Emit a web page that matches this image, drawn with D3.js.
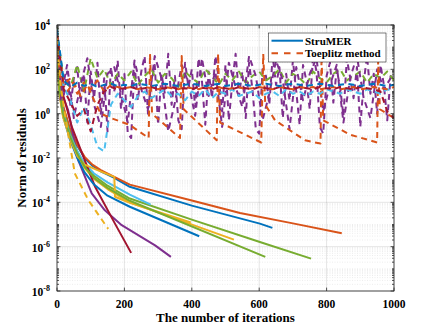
<!DOCTYPE html>
<html>
<head>
<meta charset="utf-8">
<script src="https://d3js.org/d3.v7.min.js"></script>
<style>
    body { margin: 0; background: #fff; }
    svg { display: block; }
    text { font-family: "Liberation Serif", "Times New Roman", serif; font-weight: bold; fill: #000; }
</style>
</head>
<body>
<svg id="chart" width="436" height="327"></svg>
<script>
    // ---- data (values given as log10 of the residual) ----
    var xTicks = [0, 200, 400, 600, 800, 1000];
    var yTickExps = [-8, -6, -4, -2, 0, 2, 4];
    var legendLabels = ["StruMER", "Toeplitz method"];

    // StruMER runs: [iteration, log10 residual]
    var struBlue1 = [[0,3.5],[3,2.3],[8,1.2],[18,0.3],[38,-0.7],[60,-1.45],[82,-2.0],[105,-2.35],[130,-2.6],[170,-2.9],[216,-3.3],[400,-4.15],[602,-4.96],[639,-5.15]];
    var struOrange = [[0,3.6],[3,2.4],[8,1.3],[18,0.35],[38,-0.65],[60,-1.4],[82,-1.95],[105,-2.3],[130,-2.55],[170,-2.85],[216,-3.2],[400,-3.92],[543,-4.48],[700,-4.95],[845,-5.39]];
    var struYellow1 = [[0,3.3],[3,1.9],[8,0.9],[18,0.0],[38,-1.0],[60,-1.85],[82,-2.45],[110,-2.95],[150,-3.4],[216,-4.0],[525,-5.68]];
    var struPurple = [[0,3.6],[4,2.0],[12,1.0],[33,0.16],[63,-2.1],[103,-3.6],[142,-4.36],[192,-5.03],[291,-5.94],[338,-6.46]];
    var struGreen1 = [[0,3.9],[3,2.3],[8,1.1],[18,0.15],[38,-0.85],[60,-1.7],[82,-2.3],[110,-2.8],[150,-3.25],[216,-3.83],[400,-4.78],[602,-5.79],[754,-6.54]];
    var struCyan = [[0,3.4],[3,2.0],[8,1.0],[18,0.05],[38,-0.95],[60,-1.7],[82,-2.25],[110,-2.7],[150,-3.1],[216,-3.65],[278,-4.1]];
    var struDarkRed = [[0,3.5],[5,2.0],[15,1.0],[30,0.2],[44,-0.6],[113,-3.3],[172,-4.96],[220,-6.28]];
    var struBlue2 = [[0,3.5],[3,2.0],[8,0.9],[18,-0.1],[38,-1.15],[60,-2.0],[82,-2.65],[110,-3.2],[150,-3.7],[216,-4.2],[422,-5.53]];
    var struYellow2 = [[0,3.2],[3,1.8],[8,0.8],[18,-0.15],[38,-1.1],[60,-1.9],[82,-2.3],[120,-2.55],[170,-2.85],[172,-3.75],[216,-4.02],[397,-4.91]];
    var struGreen2 = [[0,3.7],[3,2.1],[8,1.0],[18,0.0],[38,-1.0],[60,-1.8],[82,-2.4],[110,-2.9],[150,-3.35],[216,-3.93],[618,-6.46]];

    // Toeplitz runs sampled every 20 iterations
    var iters20 = d3.range(0, 1001, 20);
    var toeBlue = [3.8, 1.5, 1.2, 1.4, 1.25, 1.35, 1.2, 1.3, 1.35, 1.25,
                   1.3, 1.25, 1.35, 1.3, 1.25, 1.3, 1.35, 1.3, 1.25, 1.3,
                   1.35, 1.3, 1.25, 1.3, 1.35, 1.25, 1.3, 1.35, 1.3, 1.25,
                   1.3, 1.35, 1.3, 1.25, 1.3, 1.35, 1.3, 1.25, 1.3, 1.35,
                   1.3, 1.25, 1.3, 1.35, 1.3, 1.25, 1.3, 1.35, 1.3, 1.25, 1.3];
    var toeOrange = [3.5, 1.3, 1.6, 0.9, 1.4, 1.1, 1.5, 1.0, 1.3, 1.2,
                     1.15, 1.2, 1.1, 1.2, 1.15, 1.1, 1.2, 1.15, 1.1, 1.2,
                     1.15, 1.1, 1.2, 1.15, 1.2, 1.1, 1.15, 1.2, 1.1, 1.15,
                     1.2, 1.15, 1.1, 1.2, 1.15, 1.1, 1.2, 1.15, 1.2, 1.1,
                     1.15, 1.2, 1.1, 1.15, 1.2, 1.1, 1.15, 1.2, 1.15, 1.1, 1.2];
    var toeGreen = [3.7, 1.5, 1.2, 2.2, 1.0, 2.5, 1.6, 2.0, 1.3, 1.8,
                    1.5, 1.9, 1.3, 1.7, 2.0, 1.4, 1.8, 1.6, 1.2, 1.9,
                    1.6, 1.4, 2.0, 1.7, 1.3, 1.8, 1.5, 1.9, 1.4, 1.7,
                    1.9, 1.5, 1.7, 2.0, 1.4, 1.8, 1.6, 1.3, 1.9, 1.6,
                    1.4, 1.8, 2.0, 1.5, 1.7, 1.9, 1.4, 1.8, 1.6, 1.9, 1.5];
    var toeCyan = [3.4, 1.2, 0.6, -0.4, 0.3, -0.5, -1.5, -1.7, 0.4, 0.9,
                   0.6, 0.3, 0.8, 1.0, 0.7, 0.9, 1.1, 0.8, 0.9, 0.6,
                   1.0, 0.8, 1.1, 0.7, 1.0, 0.9, 1.1, 0.8, 0.9, 1.0,
                   0.7, 0.9, 1.0, 0.8, 1.1, 0.9, 1.0, 0.8, 1.0, 0.9,
                   1.1, 1.0, 0.9, 1.1, 1.0, 0.9, 1.1, 1.0, 0.9, 1.1, 1.0];
    var toeDarkRed = [3.6, 1.1, 0.5, -0.1, 0.2, -0.8, 0.4, 1.0, 1.2, 1.1,
                      1.15, 1.2, 1.1, 1.15, 1.2, 1.1, 1.15, 1.2, 1.1, 1.15,
                      1.1, 1.2, 1.15, 1.1, 1.2, 1.15, 1.1, 1.2, 1.15, 1.1,
                      1.2, 1.15, 1.1, 1.2, 1.15, 1.1, 1.2, 1.15, 1.1, 1.2,
                      1.15, 1.1, 1.2, 1.15, 1.1, 1.2, 1.15, 1.1, 1.0, 0.1, -0.2];

    // Toeplitz purple runs: one every 10 iterations, one at the odd tens
    var iters10 = d3.range(0, 1001, 10);
    var toePurple = [3.6, 1.5, 0.8, 1.9, 0.3, 1.6, 2.1, 0.5, 1.8, -0.4,
                     1.9, 0.7, 2.3, 0.0, 1.6, -0.8, 2.1, 1.0, 2.4, 0.2,
                     1.8, -0.9, -1.1, 2.2, 0.6, 1.9, 2.6, 0.0, 1.4, 2.2,
                     -0.5, 1.8, 0.9, 2.7, 0.4, 1.7, -0.3, -0.7, 2.3, 1.2,
                     2.0, 0.3, 2.5, 1.5, -0.5, 1.9, 0.7, 2.6, 1.6, 0.1,
                     2.2, -0.3, 1.4, 2.7, 0.8, 1.9, -0.2, 2.3, 1.1, -0.7,
                     -0.9, 2.0, 1.7, 0.4, 2.6, 1.3, 2.1, -0.2, 1.8, 0.6,
                     2.4, 1.0, -0.5, 2.2, 1.5, 0.2, 2.7, 1.9, -0.6, -0.9,
                     1.7, 2.3, 0.5, 2.0, 1.2, -0.1, 2.5, 1.6, 0.7, 2.1,
                     -0.6, 1.4, 2.6, 0.9, 1.8, 0.0, 2.2, 1.3, -0.3, 1.7, 1.5];
    var itersOdd = d3.range(10, 1000, 20);
    var toePurple2 = [0.6, 2.2, -0.2, 1.3, 2.5, 0.4, -0.6, 1.8, 2.1, 0.9,
                      -0.4, 2.4, 1.1, 0.2, 2.6, 1.6, -0.8, 0.5, 2.2, 1.4,
                      -0.1, 2.5, 0.8, 1.9, -0.6, 2.3, 1.2, 0.3, 2.6, 1.7,
                      -0.3, 0.9, 2.4, 1.5, -0.7, 2.1, 0.6, 1.8, 2.5, 0.1,
                      1.3, 2.2, -0.4, 1.6, 2.6, 0.7, -0.2, 2.0, 1.1, 1.6];

    // Toeplitz orange run with restarts (sawtooth)
    var toeOrange2X = [0, 10, 30, 50, 70, 90, 110, 130, 160, 215, 272, 276, 282, 365, 370, 376, 474, 478, 484, 606, 612, 618, 647, 736, 782, 785, 790, 870, 950, 953, 958, 1000];
    var toeOrange2E = [3.3, 1.5, 1.0, 1.4, 0.8, 1.3, 0.6, 0.0, -0.2, -0.5, -1.1, 2.7, 0.0, -1.1, 2.6, 0.2, -1.2, 2.7, -0.4, -1.3, 2.7, 0.4, -0.3, -1.2, -1.35, 2.6, -0.3, -0.95, -1.3, 2.4, 0.2, -0.2];

    // Toeplitz yellow run that converges
    var toeYellow = [[0,3.4],[8,1.6],[20,0.3],[33,-0.9],[53,-2.7],[93,-3.9],[152,-5.2]];

    // ---- layout ----
    var width = 436, height = 327;
    var plot = { left: 57, right: 394, top: 25, bottom: 291 };
    var c = { blue: "#0072BD", orange: "#D95319", yellow: "#EDB120", purple: "#7E2F8E",
              green: "#77AC30", cyan: "#4DBEEE", darkred: "#A2142F" };

    var x = d3.scaleLinear().domain([0, 1000]).range([plot.left, plot.right]);
    var y = d3.scaleLog().domain([1e-8, 1e4]).range([plot.bottom, plot.top]);

    var svg = d3.select("#chart");
    svg.append("rect").attr("width", width).attr("height", height).attr("fill", "#fff");
    svg.append("defs").append("clipPath").attr("id", "clip")
        .append("rect")
        .attr("x", plot.left).attr("y", plot.top)
        .attr("width", plot.right - plot.left).attr("height", plot.bottom - plot.top);

    // grid
    var grid = svg.append("g");
    var minorVals = [];
    for (var e = -8; e < 4; e++) {
        for (var m = 1; m < 10; m++) {
            if (m === 1 && e % 2 === 0) continue;
            minorVals.push(m * Math.pow(10, e));
        }
    }
    grid.selectAll("line.minor").data(minorVals).enter().append("line")
        .attr("x1", plot.left).attr("x2", plot.right)
        .attr("y1", function (d) { return y(d); }).attr("y2", function (d) { return y(d); })
        .attr("stroke", "#000").attr("stroke-opacity", 0.13)
        .attr("stroke-width", 0.6).attr("stroke-dasharray", "1,1.5");
    grid.selectAll("line.majy").data(yTickExps).enter().append("line")
        .attr("x1", plot.left).attr("x2", plot.right)
        .attr("y1", function (d) { return y(Math.pow(10, d)); })
        .attr("y2", function (d) { return y(Math.pow(10, d)); })
        .attr("stroke", "#262626").attr("stroke-opacity", 0.15).attr("stroke-width", 0.8);
    grid.selectAll("line.majx").data(xTicks).enter().append("line")
        .attr("x1", function (d) { return x(d); }).attr("x2", function (d) { return x(d); })
        .attr("y1", plot.top).attr("y2", plot.bottom)
        .attr("stroke", "#262626").attr("stroke-opacity", 0.15).attr("stroke-width", 0.8);

    // lines
    var line = d3.line()
        .x(function (d) { return x(d[0]); })
        .y(function (d) { return y(Math.pow(10, d[1])); });

    var marks = svg.append("g").attr("clip-path", "url(#clip)");

    function zip(xs, es) { return xs.map(function (v, i) { return [v, es[i]]; }); }

    function draw(data, color, dashed) {
        marks.append("path")
            .datum(data)
            .attr("d", line)
            .attr("fill", "none")
            .attr("stroke", color)
            .attr("stroke-width", 2)
            .attr("stroke-linejoin", "round")
            .attr("stroke-dasharray", dashed ? "6,4.5" : null);
    }

    draw(struBlue1, c.blue);
    draw(struOrange, c.orange);
    draw(struYellow1, c.yellow);
    draw(struPurple, c.purple);
    draw(struGreen1, c.green);
    draw(struCyan, c.cyan);
    draw(struDarkRed, c.darkred);
    draw(struBlue2, c.blue);
    draw(struYellow2, c.yellow);
    draw(struGreen2, c.green);

    draw(zip(iters10, toePurple), c.purple, true);
    draw(zip(iters20, toeGreen), c.green, true);
    draw(zip(itersOdd, toePurple2), c.purple, true);
    draw(zip(toeOrange2X, toeOrange2E), c.orange, true);
    draw(zip(iters20, toeCyan), c.cyan, true);
    draw(zip(iters20, toeOrange), c.orange, true);
    draw(zip(iters20, toeDarkRed), c.darkred, true);
    draw(zip(iters20, toeBlue), c.blue, true);
    draw(toeYellow, c.yellow, true);

    // axes box and ticks
    var ax = svg.append("g").attr("stroke", "#262626").attr("stroke-width", 0.8);
    ax.append("rect")
        .attr("x", plot.left).attr("y", plot.top)
        .attr("width", plot.right - plot.left).attr("height", plot.bottom - plot.top)
        .attr("fill", "none");
    xTicks.forEach(function (t) {
        ax.append("line").attr("x1", x(t)).attr("x2", x(t)).attr("y1", plot.bottom).attr("y2", plot.bottom - 3.4);
        ax.append("line").attr("x1", x(t)).attr("x2", x(t)).attr("y1", plot.top).attr("y2", plot.top + 3.4);
    });
    yTickExps.forEach(function (t) {
        var yy = y(Math.pow(10, t));
        ax.append("line").attr("x1", plot.left).attr("x2", plot.left + 3.4).attr("y1", yy).attr("y2", yy);
        ax.append("line").attr("x1", plot.right).attr("x2", plot.right - 3.4).attr("y1", yy).attr("y2", yy);
    });
    minorVals.forEach(function (v) {
        var yy = y(v);
        ax.append("line").attr("x1", plot.left).attr("x2", plot.left + 2).attr("y1", yy).attr("y2", yy);
        ax.append("line").attr("x1", plot.right).attr("x2", plot.right - 2).attr("y1", yy).attr("y2", yy);
    });

    // tick labels
    xTicks.forEach(function (t) {
        svg.append("text").attr("x", x(t)).attr("y", plot.bottom + 16.5)
            .attr("text-anchor", "middle").style("font-size", "11.5px").text(t);
    });
    yTickExps.forEach(function (t) {
        var lab = svg.append("text").attr("x", plot.left - 7).attr("y", y(Math.pow(10, t)) + 5)
            .attr("text-anchor", "end").style("font-size", "11.5px");
        lab.append("tspan").text("10");
        lab.append("tspan").attr("dy", -5).style("font-size", "8px").text(t);
    });

    // axis titles
    svg.append("text").attr("x", (plot.left + plot.right) / 2).attr("y", 322)
        .attr("text-anchor", "middle").style("font-size", "13px").text("The number of iterations");
    svg.append("text").attr("transform", "translate(25.5," + ((plot.top + plot.bottom) / 2) + ") rotate(-90)")
        .attr("text-anchor", "middle").style("font-size", "13px").text("Norm of residuals");

    // legend
    var lg = svg.append("g");
    lg.append("rect").attr("x", 268.5).attr("y", 33).attr("width", 117.5).attr("height", 29)
        .attr("fill", "#fff").attr("stroke", "#262626").attr("stroke-width", 0.6);
    lg.append("line").attr("x1", 271.5).attr("x2", 303).attr("y1", 40.7).attr("y2", 40.7)
        .attr("stroke", c.blue).attr("stroke-width", 2);
    lg.append("line").attr("x1", 271.5).attr("x2", 303).attr("y1", 53.3).attr("y2", 53.3)
        .attr("stroke", c.orange).attr("stroke-width", 2).attr("stroke-dasharray", "6.5,6");
    lg.append("text").attr("x", 305).attr("y", 44.5).style("font-size", "11px").text(legendLabels[0]);
    lg.append("text").attr("x", 305).attr("y", 57.2).style("font-size", "11px").text(legendLabels[1]);
</script>
</body>
</html>
